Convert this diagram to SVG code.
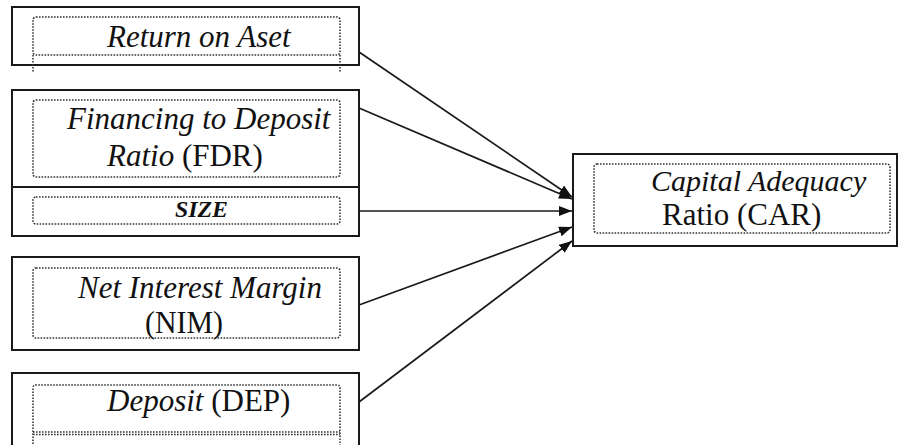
<svg xmlns="http://www.w3.org/2000/svg" width="900" height="445" viewBox="0 0 900 445">
<style>
.box{fill:#fff;stroke:#1a1a1a;stroke-width:2}
.dot{fill:none;stroke:#333;stroke-width:1.6;stroke-dasharray:1.6 1.4}
text{font-family:'Liberation Serif','Times New Roman',Tinos,'DejaVu Serif','Noto Serif',serif;font-size:31px;fill:#111}
.i{font-style:italic}
.con{stroke:#1a1a1a;stroke-width:1.7;fill:none}
</style>
<defs>
<marker id="ah" markerUnits="userSpaceOnUse" markerWidth="14" markerHeight="12" refX="13" refY="5" orient="auto">
<path d="M0,0 L13,5 L0,10 Z" fill="#111"/>
</marker>
</defs>
<rect width="900" height="445" fill="#fff"/>
<g id="roa">
<rect class="box" x="12" y="7" width="347" height="58"/>
<rect class="dot" x="33" y="17" width="307" height="38" rx="3"/>
<line class="dot" x1="33" y1="55" x2="33" y2="73"/>
<line class="dot" x1="340" y1="55" x2="340" y2="73"/>
<text class="i" x="107" y="47">Return on Aset</text>
</g>
<g id="fdr">
<rect class="box" x="12" y="90" width="347" height="97"/>
<rect class="dot" x="33" y="100" width="307" height="77" rx="3"/>
<text class="i" x="67" y="129">Financing to Deposit</text>
<text x="107" y="166"><tspan class="i">Ratio</tspan> (FDR)</text>
</g>
<g id="size">
<rect class="box" x="12" y="187" width="347" height="49"/>
<rect class="dot" x="33" y="197" width="307" height="27" rx="3"/>
<text class="i" x="175" y="217" style="font-size:23px;font-weight:bold" textLength="53" lengthAdjust="spacingAndGlyphs">SIZE</text>
</g>
<g id="nim">
<rect class="box" x="12" y="257" width="347" height="93"/>
<rect class="dot" x="33" y="268" width="307" height="70" rx="3"/>
<text class="i" x="78" y="298">Net Interest Margin</text>
<text x="145" y="333" textLength="78" lengthAdjust="spacingAndGlyphs">(NIM)</text>
</g>
<g id="dep">
<rect class="box" x="12" y="373" width="347" height="80"/>
<path class="dot" d="M33,447 V388 Q33,385 36,385 H337 Q340,385 340,388 V447"/>
<line class="dot" x1="33" y1="432" x2="340" y2="432"/>
<line class="dot" x1="33" y1="434.5" x2="340" y2="434.5"/>
<text x="107" y="411"><tspan class="i">Deposit</tspan> (DEP)</text>
</g>
<g id="car">
<rect class="box" x="573" y="154" width="324" height="92"/>
<rect class="dot" x="594" y="164" width="296" height="69" rx="3"/>
<text class="i" x="651" y="191" style="font-size:30px">Capital Adequacy</text>
<text x="662" y="225">Ratio (CAR)</text>
</g>
<g id="connectors">
<line class="con" x1="359" y1="52" x2="572" y2="197" marker-end="url(#ah)"/>
<line class="con" x1="359" y1="108" x2="572" y2="199" marker-end="url(#ah)"/>
<line class="con" x1="359" y1="211" x2="572" y2="211" marker-end="url(#ah)"/>
<line class="con" x1="359" y1="305" x2="572" y2="227" marker-end="url(#ah)"/>
<line class="con" x1="359" y1="402" x2="572" y2="241" marker-end="url(#ah)"/>
</g>
</svg>
